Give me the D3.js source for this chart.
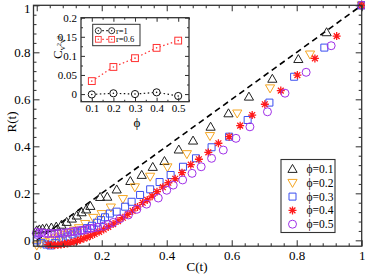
<!DOCTYPE html>
<html>
<head>
<meta charset="utf-8">
<script src="https://cdn.jsdelivr.net/npm/d3@7"></script>
<style>
  body { margin: 0; background: #fff; }
  svg { display: block; }
  text { font-family: "Liberation Serif", "Times New Roman", "DejaVu Serif", serif; fill: #000; }
</style>
</head>
<body>
<svg id="chart" width="365" height="275"></svg>
<script>
/* Data: [C(t), R(t)] per phi */
var phiLabels = ["\u03d5=0.1", "\u03d5=0.2", "\u03d5=0.3", "\u03d5=0.4", "\u03d5=0.5"];

var phi01 = [[0,0.042],[0.008,0.046],[0.018,0.049],[0.030,0.051],[0.045,0.054],[0.060,0.058],[0.076,0.066],
  [0.092,0.078],[0.108,0.092],[0.123,0.105],[0.138,0.119],[0.152,0.131],[0.165,0.146],[0.195,0.184],[0.217,0.185],
  [0.246,0.216],[0.288,0.252],[0.323,0.278],[0.357,0.312],[0.393,0.337],[0.437,0.386],[0.481,0.424],[0.535,0.483],
  [0.590,0.540],[0.653,0.611],[0.725,0.687],[0.805,0.771],[0.892,0.885],[1,1]];

var phi02 = [[0,-0.022],[0.012,-0.015],[0.025,-0.008],[0.040,0.0],[0.055,0.008],[0.070,0.016],[0.085,0.024],
  [0.100,0.032],[0.115,0.042],[0.130,0.052],[0.149,0.070],[0.174,0.096],[0.200,0.112],[0.228,0.140],[0.265,0.176],
  [0.302,0.226],[0.349,0.271],[0.402,0.311],[0.462,0.367],[0.533,0.444],[0.617,0.540],[0.718,0.647],[0.841,0.791],[1,1]];

var phi03 = [[0,0.0],[0.015,-0.012],[0.030,-0.018],[0.042,-0.022],[0.055,-0.012],[0.068,0.0],[0.080,0.008],
  [0.095,0.016],[0.110,0.025],[0.125,0.033],[0.140,0.042],[0.155,0.052],[0.170,0.062],[0.185,0.075],[0.198,0.086],
  [0.210,0.098],[0.225,0.114],[0.246,0.122],[0.272,0.143],[0.292,0.164],[0.318,0.193],[0.349,0.217],[0.378,0.248],
  [0.412,0.278],[0.450,0.313],[0.490,0.349],[0.538,0.396],[0.592,0.441],[0.649,0.512],[0.716,0.586],[0.792,0.696],
  [0.885,0.820],[1,1]];

var phi04 = [[0.035,-0.018],[0.045,-0.020],[0.055,-0.021],[0.065,-0.020],[0.075,-0.018],[0.085,-0.016],[0.095,-0.013],
  [0.105,-0.010],[0.115,-0.006],[0.125,-0.002],[0.135,0.003],[0.145,0.008],[0.155,0.013],[0.165,0.019],[0.178,0.027],
  [0.192,0.036],[0.206,0.046],[0.220,0.057],[0.235,0.069],[0.250,0.082],[0.265,0.096],[0.280,0.110],[0.295,0.125],
  [0.310,0.142],[0.326,0.160],[0.340,0.172],[0.355,0.188],[0.370,0.207],[0.388,0.226],[0.405,0.245],[0.426,0.262],
  [0.447,0.288],[0.474,0.322],[0.499,0.345],[0.528,0.374],[0.559,0.413],[0.592,0.441],[0.626,0.488],[0.663,0.533],
  [0.702,0.579],[0.751,0.637],[0.802,0.703],[0.856,0.774],[0.923,0.869],[1,1]];

var phi05 = [[0,0.035],[0,0.025],[0.008,0.030],[0.016,0.033],[0.025,0.030],[0.035,0.028],[0.045,0.030],[0.055,0.028],
  [0.065,0.030],[0.075,0.032],[0.085,0.030],[0.095,0.034],[0.105,0.036],[0.115,0.038],[0.125,0.040],[0.135,0.042],
  [0.145,0.044],[0.155,0.047],[0.165,0.050],[0.175,0.053],[0.188,0.056],[0.205,0.060],[0.220,0.068],[0.235,0.076],
  [0.256,0.092],[0.282,0.108],[0.308,0.132],[0.338,0.154],[0.374,0.180],[0.400,0.213],[0.420,0.235],[0.449,0.257],
  [0.478,0.285],[0.506,0.313],[0.538,0.349],[0.574,0.384],[0.613,0.434],[0.656,0.483],[0.710,0.547],[0.764,0.626],
  [0.829,0.715],[0.906,0.828],[1,1]];

var mainTicks = [0, 0.2, 0.4, 0.6, 0.8, 1];
var mainTickLabels = ["0", "0.2", "0.4", "0.6", "0.8", "1"];

/* Inset: correlation vs phi */
var insetPhi = [0.1, 0.2, 0.3, 0.4, 0.5];
var insetR1 = [-0.001, 0.002, 0.0, 0.0045, -0.005];
var insetR06 = [0.034, 0.071, 0.094, 0.121, 0.140];
var insetXTicks = [0.1, 0.2, 0.3, 0.4, 0.5];
var insetYTicks = [0, 0.05, 0.1, 0.15, 0.2];
var insetYTickLabels = ["0", "0.05", "0.1", "0.15", "0.2"];
var insetLegend = ["r=1", "r=0.6"];

/* Style settings */
var styleSet = {
  frame: "#333",
  frameWidth: 1.3,
  font: "Liberation Serif, Times New Roman, serif"
};

var seriesList = [
  { data: phi01, shape: "triUp",   color: "#222" },
  { data: phi02, shape: "triDown", color: "#f5a623" },
  { data: phi03, shape: "square",  color: "#3a4ef0" },
  { data: phi04, shape: "star",    color: "#ff1a1a" },
  { data: phi05, shape: "circle",  color: "#a030e8" }
];

var svg = d3.select("svg#chart");

/* Main scales */
var x = d3.scaleLinear().domain([-0.01, 1]).range([33.5, 361.7]);
var y = d3.scaleLinear().domain([-0.025, 1]).range([246.2, 5.3]);

/* marker shapes, centred on 0,0 */
function markerPath(shape) {
  switch (shape) {
    case "triUp":   return "M0,-4.6L4.6,3.4L-4.6,3.4Z";
    case "triDown": return "M0,4.6L4.6,-3.4L-4.6,-3.4Z";
    case "square":  return "M-3.5,-3.5H3.5V3.5H-3.5Z";
    case "star":    return "M-4,0H4M0,-4V4M-2.9,-2.9L2.9,2.9M-2.9,2.9L2.9,-2.9";
    case "circle":  return d3.arc()({ innerRadius: 0, outerRadius: 4, startAngle: 0, endAngle: 2 * Math.PI });
  }
}

/* minor tick helper: every `step` within the domain */
function minorValues(lo, hi, step, majors) {
  var out = [];
  for (var v = lo; v <= hi + 1e-9; v += step) {
    var r = Math.round(v * 1000) / 1000;
    if (!majors.some(m => Math.abs(m - r) < 1e-6)) out.push(r);
  }
  return out;
}

function drawAxes(g, sx, sy, opt) {
  var w0 = sx.range()[0], w1 = sx.range()[1];
  var h0 = sy.range()[1], h1 = sy.range()[0];

  var xm = minorValues(opt.xMinorStart, opt.xMinorEnd, opt.xMinor, opt.xTicks);
  var ym = minorValues(opt.yMinorStart, opt.yMinorEnd, opt.yMinor, opt.yTicks);

  var axes = [
    [d3.axisBottom(sx), `translate(0,${h1})`, true, opt.xTicks, xm, opt.xLabels],
    [d3.axisTop(sx),    `translate(0,${h0})`, false, opt.xTicks, xm, null],
    [d3.axisLeft(sy),   `translate(${w0},0)`, true, opt.yTicks, ym, opt.yLabels],
    [d3.axisRight(sy),  `translate(${w1},0)`, false, opt.yTicks, ym, null]
  ];

  axes.forEach(function (a, i) {
    var labelled = a[2];
    var major = a[0].tickValues(a[3]).tickSize(-opt.major)
      .tickPadding(i < 2 ? opt.xPad : opt.yPad)
      .tickFormat((d, k) => labelled ? a[5][k] : "");
    var gm = g.append("g").attr("transform", a[1]).call(major);
    gm.select(".domain").remove();
    gm.selectAll("line").attr("stroke", styleSet.frame).attr("stroke-width", styleSet.frameWidth * 0.8);
    gm.selectAll("text").style("font-family", styleSet.font).style("font-size", opt.fontSize + "px");
    /* keep the top y label inside the picture */
    if (i === 2 && opt.topLabelDy) {
      gm.selectAll(".tick").filter(d => d === a[3][a[3].length - 1])
        .select("text").attr("dy", opt.topLabelDy);
    }

    var minorAx = (i === 0 ? d3.axisBottom(sx) : i === 1 ? d3.axisTop(sx) : i === 2 ? d3.axisLeft(sy) : d3.axisRight(sy))
      .tickValues(a[4]).tickSize(-opt.minor).tickFormat("");
    var gn = g.append("g").attr("transform", a[1]).call(minorAx);
    gn.select(".domain").remove();
    gn.selectAll("line").attr("stroke", styleSet.frame).attr("stroke-width", styleSet.frameWidth * 0.8);
  });

  g.append("rect")
    .attr("x", w0).attr("y", h0)
    .attr("width", w1 - w0).attr("height", h1 - h0)
    .attr("fill", "none")
    .attr("stroke", styleSet.frame)
    .attr("stroke-width", styleSet.frameWidth);
}

/* ---- main plot ---- */
var mainGroup = svg.append("g").attr("class", "main-section");

mainGroup.append("line")
  .attr("x1", x(0)).attr("y1", y(0))
  .attr("x2", x(1)).attr("y2", y(1))
  .attr("stroke", "#000")
  .attr("stroke-width", 1.6)
  .attr("stroke-dasharray", "6,4");

seriesList.forEach(function (s) {
  mainGroup.append("g")
    .selectAll("path")
    .data(s.data)
    .enter()
    .append("path")
    .attr("d", markerPath(s.shape))
    .attr("transform", d => `translate(${x(d[0])},${y(d[1])})`)
    .attr("fill", "none")
    .attr("stroke", s.color)
    .attr("stroke-width", s.shape === "star" ? 1.3 : 1);
});

drawAxes(mainGroup, x, y, {
  xTicks: mainTicks, yTicks: mainTicks,
  xLabels: mainTickLabels, yLabels: mainTickLabels,
  xMinor: 0.04, xMinorStart: 0, xMinorEnd: 1,
  yMinor: 0.04, yMinorStart: 0, yMinorEnd: 1,
  major: 6, minor: 3, xPad: 5, yPad: 3, fontSize: 13,
  topLabelDy: "0.52em"
});

svg.append("text")
  .attr("x", 197).attr("y", 271)
  .attr("text-anchor", "middle")
  .style("font-size", "13px")
  .text("C(t)");

svg.append("text")
  .attr("transform", "translate(16,122) rotate(-90)")
  .attr("text-anchor", "middle")
  .style("font-size", "13px")
  .text("R(t)");

/* main legend */
var legend = svg.append("g").attr("class", "legend");
legend.append("rect")
  .attr("x", 281).attr("y", 159.5)
  .attr("width", 54).attr("height", 73)
  .attr("fill", "#fff")
  .attr("stroke", styleSet.frame)
  .attr("stroke-width", 1.1);

var legItems = legend.selectAll(".legend-item")
  .data(seriesList)
  .enter()
  .append("g")
  .attr("class", "legend-item")
  .attr("transform", (d, i) => `translate(292.5, ${169 + i * 13.8})`);

legItems.append("path")
  .attr("d", d => markerPath(d.shape))
  .attr("fill", "none")
  .attr("stroke", d => d.color)
  .attr("stroke-width", d => d.shape === "star" ? 1.3 : 1);

legItems.append("text")
  .attr("x", 14).attr("dy", "0.35em")
  .style("font-size", "11.5px")
  .text((d, i) => phiLabels[i]);

/* ---- inset ---- */
var xi = d3.scaleLinear().domain([0.05, 0.55]).range([81, 189]);
var yi = d3.scaleLinear().domain([-0.02, 0.2]).range([101.7, 17.7]);

var inset = svg.append("g").attr("class", "inset-section");
inset.append("rect")
  .attr("x", 81).attr("y", 17.7)
  .attr("width", 108).attr("height", 84)
  .attr("fill", "#fff");

var insetSets = [
  { values: insetR1,  shape: "circleDot", color: "#111" },
  { values: insetR06, shape: "squareDot", color: "#ff3030" }
];

function insetMarker(g, shape, color) {
  if (shape === "circleDot") {
    g.append("circle").attr("r", 3.6).attr("fill", "#fff").attr("stroke", color).attr("stroke-width", 1);
  } else {
    g.append("rect").attr("x", -3.4).attr("y", -3.4).attr("width", 6.8).attr("height", 6.8)
      .attr("fill", "#fff").attr("stroke", color).attr("stroke-width", 1);
  }
  g.append("circle").attr("r", 0.8).attr("fill", color);
}

var insetLine = d3.line().x((d, i) => xi(insetPhi[i])).y(d => yi(d));

insetSets.forEach(function (s) {
  inset.append("path")
    .attr("d", insetLine(s.values))
    .attr("fill", "none")
    .attr("stroke", s.color)
    .attr("stroke-width", 1.2)
    .attr("stroke-dasharray", "1.5,2.5");
  s.values.forEach(function (v, i) {
    var m = inset.append("g").attr("transform", `translate(${xi(insetPhi[i])},${yi(v)})`);
    insetMarker(m, s.shape, s.color);
  });
});

drawAxes(inset, xi, yi, {
  xTicks: insetXTicks, yTicks: insetYTicks,
  xLabels: ["0.1", "0.2", "0.3", "0.4", "0.5"], yLabels: insetYTickLabels,
  xMinor: 0.05, xMinorStart: 0.05, xMinorEnd: 0.55,
  yMinor: 0.025, yMinorStart: -0.0, yMinorEnd: 0.2,
  major: 4, minor: 2, xPad: 3, yPad: 4, fontSize: 11
});

/* inset legend */
var insetLeg = inset.append("g");
insetLeg.append("rect")
  .attr("x", 92.7).attr("y", 24.3)
  .attr("width", 47.3).attr("height", 21.4)
  .attr("fill", "#fff")
  .attr("stroke", styleSet.frame)
  .attr("stroke-width", 1);

insetSets.forEach(function (s, i) {
  var ly = 30.7 + i * 8.6;
  insetLeg.append("line")
    .attr("x1", 98.3).attr("x2", 111.7)
    .attr("y1", ly).attr("y2", ly)
    .attr("stroke", s.color)
    .attr("stroke-width", 1.2)
    .attr("stroke-dasharray", "1.5,2.5");
  [98.3, 111.7].forEach(function (mx) {
    var m = insetLeg.append("g").attr("transform", `translate(${mx},${ly}) scale(0.85)`);
    insetMarker(m, s.shape, s.color);
  });
  insetLeg.append("text")
    .attr("x", 116).attr("y", ly).attr("dy", "0.35em")
    .style("font-size", "8.5px")
    .text(insetLegend[i]);
});

/* inset axis titles */
var cLabel = inset.append("text")
  .attr("transform", "translate(62,59) rotate(-90)")
  .style("font-size", "13px");
cLabel.append("tspan").text("C");
cLabel.append("tspan").attr("dy", 3).style("font-size", "8px").text("v");
cLabel.append("tspan").attr("dy", -4).style("font-size", "6.5px").text("2");
cLabel.append("tspan").attr("dy", 4).style("font-size", "8px").text("v");
cLabel.append("tspan").attr("dy", -4).style("font-size", "6.5px").text("2");

inset.append("text")
  .attr("x", 137).attr("y", 127)
  .attr("text-anchor", "middle")
  .style("font-size", "13px")
  .text("\u03d5");
</script>
</body>
</html>
